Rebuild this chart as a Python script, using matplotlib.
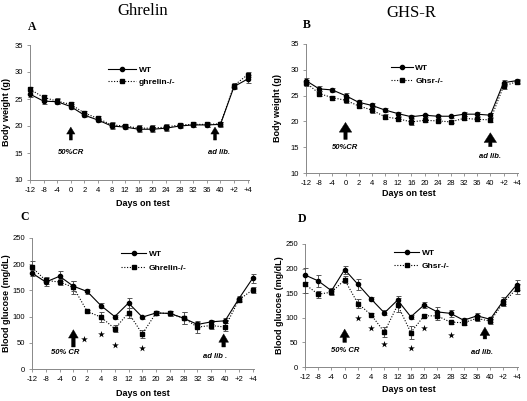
import matplotlib
matplotlib.use("Agg")
import matplotlib.pyplot as plt

W, H = 527, 401

days = ['-12', '-8', '-4', '0', '2', '4', '8', '12', '16', '20', '24', '28', '32', '36', '40', '+2', '+4']

# A: Ghrelin body weight (g)
a_wt = [25.9, 24.6, 24.5, 23.6, 22.0, 21.1, 20.0, 19.8, 19.4, 19.4, 19.6, 20.0, 20.2, 20.2, 20.3, 27.3, 28.7]
a_wt_err = [0.6, 0.6, 0.5, 0.5, 0.4, 0.4, 0.5, 0.4, 0.5, 0.5, 0.5, 0.4, 0.4, 0.4, 0.4, 0.5, 0.7]
a_ko = [26.8, 25.3, 24.6, 24.0, 22.4, 21.4, 20.2, 20.0, 19.6, 19.6, 19.8, 20.2, 20.3, 20.3, 20.4, 27.5, 29.5]
a_ko_err = [0.5, 0.5, 0.5, 0.5, 0.4, 0.4, 0.6, 0.4, 0.5, 0.5, 0.5, 0.4, 0.4, 0.4, 0.4, 0.5, 0.5]

# B: GHS-R body weight (g)
b_wt = [27.9, 26.3, 26.1, 25.0, 23.7, 23.1, 22.2, 21.5, 20.9, 21.2, 21.0, 21.0, 21.4, 21.4, 21.2, 27.5, 27.9]
b_wt_err = [0.6, 0.5, 0.4, 0.5, 0.4, 0.4, 0.3, 0.4, 0.3, 0.3, 0.3, 0.3, 0.4, 0.4, 0.4, 0.6, 0.4]
b_ko = [27.5, 25.4, 24.6, 24.1, 23.0, 22.2, 20.9, 20.5, 19.9, 20.2, 20.1, 19.9, 20.6, 20.4, 20.3, 26.8, 27.7]
b_ko_err = [0.6, 0.4, 0.4, 0.5, 0.4, 0.5, 0.5, 0.4, 0.6, 0.3, 0.3, 0.3, 0.4, 0.4, 0.4, 0.6, 0.4]

# C: Ghrelin blood glucose (mg/dL)
c_wt = [183, 166, 177, 158, 148, 121, 100, 126, 99, 107, 106, 97, 85, 90, 92, 134, 173]
c_wt_err = [6, 7, 10, 9, 4, 5, 4, 9, 3, 4, 5, 12, 5, 4, 5, 5, 9]
c_ko = [194, 169, 166, 156, 110, 99, 77, 107, 67, 107, 106, 97, 80, 83, 80, 132, 151]
c_ko_err = [13, 7, 6, 12, 3, 10, 7, 9, 8, 4, 5, 12, 12, 6, 7, 5, 6]
c_stars_x = [3.8, 5, 6, 8]
c_stars_y = [57, 66, 45, 40]

# D: GHS-R blood glucose (mg/dL)
d_wt = [187, 175, 155, 198, 168, 138, 110, 136, 102, 126, 112, 109, 95, 104, 97, 135, 167]
d_wt_err = [14, 13, 6, 8, 11, 4, 5, 8, 4, 7, 10, 7, 4, 6, 5, 7, 10]
d_ko = [168, 148, 152, 177, 129, 106, 71, 126, 70, 104, 104, 91, 90, 99, 93, 131, 159]
d_ko_err = [17, 7, 6, 7, 9, 3, 10, 15, 13, 3, 8, 3, 4, 6, 5, 7, 10]
d_stars_x = [4, 5, 6, 8, 9, 11]
d_stars_y = [99, 79, 46, 39, 79, 65]

x = list(range(len(days)))


def rect(l, r, t, b):
    return [l / W, 1 - b / H, (r - l) / W, (b - t) / H]


def fx(px):
    return px / W


def fy(py):
    return 1 - py / H


fig = plt.figure(figsize=(W / 100, H / 100), dpi=100)
plt.rcParams['font.family'] = ['Liberation Sans', 'DejaVu Sans']

serif = ['Liberation Serif', 'DejaVu Serif']


def panel(pos, wt, wt_err, ko, ko_err, ylim, yticks, ko_name, leg_xy, leg_len, leg_sp):
    ax = fig.add_axes(pos)
    ax.errorbar(x, wt, yerr=wt_err, color='black', lw=0.8, ls='-', marker='o', ms=3,
                ecolor='#555555', elinewidth=0.7, capsize=1.8, capthick=0.7, label='WT',
                clip_on=False, zorder=3)
    ax.errorbar(x, ko, yerr=ko_err, color='black', lw=0.8, ls=(0, (1, 1.5)), marker='s', ms=3,
                ecolor='#555555', elinewidth=0.7, capsize=1.8, capthick=0.7, label=ko_name,
                clip_on=False, zorder=3)
    ax.set_xlim(0, 16.1)
    ax.set_ylim(*ylim)
    ax.set_yticks(yticks)
    ax.set_xticks(x)
    ax.set_xticklabels(days)
    for s in ['top', 'right']:
        ax.spines[s].set_visible(False)
    for s in ['left', 'bottom']:
        ax.spines[s].set_color('#888888')
        ax.spines[s].set_linewidth(0.7)
    ax.tick_params(labelsize=5.5, length=2.5, width=0.6, color='#888888', pad=2.5)
    h, l = ax.get_legend_handles_labels()
    h = [hh[0] for hh in h]
    ax.legend(h, l, loc='upper left', bbox_to_anchor=(fx(leg_xy[0]), fy(leg_xy[1])),
              bbox_transform=fig.transFigure, frameon=False, borderpad=0, borderaxespad=0,
              handlelength=leg_len, handletextpad=0.3, labelspacing=leg_sp,
              prop={'size': 6, 'weight': 'bold'})
    return ax


def arrow(ax, xi, y0, y1, hw, hl, tw):
    ax.annotate('', xy=(xi, y1), xytext=(xi, y0),
                arrowprops=dict(arrowstyle=f'simple,head_width={hw},head_length={hl},tail_width={tw}',
                                fc='black', ec='black', lw=0.3, shrinkA=0, shrinkB=0,
                                mutation_scale=1))


def note(ax, xi, y, s):
    ax.text(xi, y, s, ha='center', va='center', fontsize=5.5, style='italic', weight='bold')


# A
axA = panel(rect(30, 249, 45, 180), a_wt, a_wt_err, a_ko, a_ko_err, (10, 35), range(10, 36, 5),
            'ghrelin-/-', (108, 66), 3.4, 0.55)
arrow(axA, 3, 17.4, 19.8, 6, 5, 2.2)
note(axA, 3, 15.0, '50%CR')
arrow(axA, 13.6, 17.4, 19.8, 6, 5, 2.2)
note(axA, 13.9, 15.0, 'ad lib.')

# B
axB = panel(rect(306, 518, 44, 173), b_wt, b_wt_err, b_ko, b_ko_err, (10, 35), range(10, 36, 5),
            'Ghsr-/-', (391, 64), 2.6, 0.6)
arrow(axB, 3, 16.5, 19.8, 9, 7, 2.4)
note(axB, 3, 15.0, '50%CR')
arrow(axB, 14, 15.1, 17.8, 9, 7, 2.4)
note(axB, 14, 13.2, 'ad lib.')

# C
axC = panel(rect(32, 254, 238, 369), c_wt, c_wt_err, c_ko, c_ko_err, (0, 250), range(0, 251, 50),
            'Ghrelin-/-', (121, 250), 3.0, 0.8)
arrow(axC, 3, 42, 75, 7, 6, 2.6)
note(axC, 2.4, 31, '50% CR')
arrow(axC, 13.9, 42, 67, 7, 6, 2.6)
note(axC, 13.3, 23.5, 'ad lib .')
axC.scatter(c_stars_x, c_stars_y, marker='*', s=26, color='black', lw=0)

# D
axD = panel(rect(305, 518, 244, 367), d_wt, d_wt_err, d_ko, d_ko_err, (0, 250), range(0, 251, 50),
            'Ghsr-/-', (394, 249), 3.0, 0.6)
arrow(axD, 3, 50, 77, 7, 6, 2.6)
note(axD, 3, 34, '50% CR')
arrow(axD, 13.6, 57, 81, 7, 6, 2.6)
note(axD, 13.4, 30, 'ad lib.')
axD.scatter(d_stars_x, d_stars_y, marker='*', s=26, color='black', lw=0)

# axis labels
lab = dict(fontsize=6.5, weight='bold', ha='center', va='center')
fig.text(fx(7), fy(112), 'Body weight (g)', rotation=90, **lab)
fig.text(fx(278), fy(108), 'Body weight (g)', rotation=90, **lab)
fig.text(fx(7), fy(303), 'Blood glucose (mg/dL)', rotation=90, **lab)
fig.text(fx(280), fy(305), 'Blood glucose (mg/dL)', rotation=90, **lab)
fig.text(fx(143), fy(204), 'Days on test', **lab)
fig.text(fx(409), fy(193), 'Days on test', **lab)
fig.text(fx(143), fy(393), 'Days on test', **lab)
fig.text(fx(409), fy(390), 'Days on test', **lab)

# titles and panel letters
fig.text(fx(143), fy(11), 'Ghrelin', fontsize=12, family=serif, ha='center', va='center')
fig.text(fx(411), fy(13), 'GHS-R', fontsize=12, family=serif, ha='center', va='center')
fig.text(fx(32), fy(27), 'A', fontsize=8.5, weight='bold', family=serif, ha='center', va='center')
fig.text(fx(307), fy(25), 'B', fontsize=8.5, weight='bold', family=serif, ha='center', va='center')
fig.text(fx(25), fy(217), 'C', fontsize=8.5, weight='bold', family=serif, ha='center', va='center')
fig.text(fx(302), fy(219), 'D', fontsize=8.5, weight='bold', family=serif, ha='center', va='center')

fig.savefig('out.png', dpi=100)
